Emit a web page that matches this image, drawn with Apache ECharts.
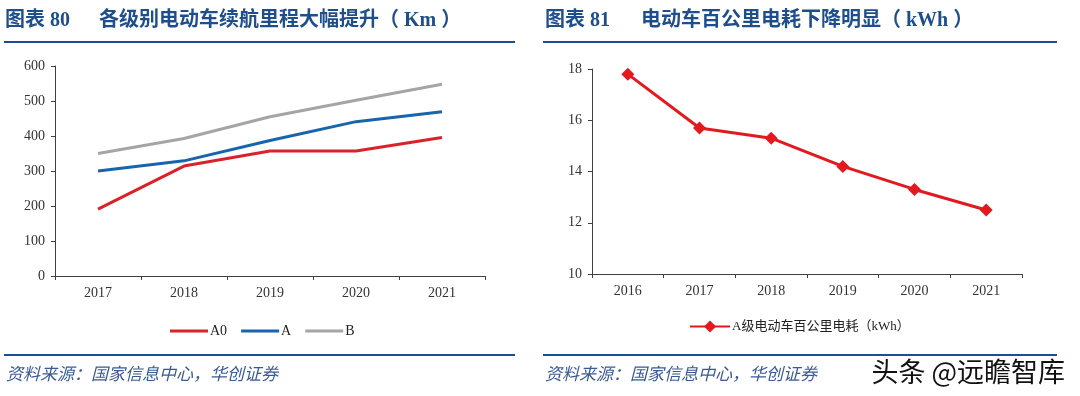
<!DOCTYPE html>
<html>
<head>
<meta charset="utf-8">
<script src="https://cdn.jsdelivr.net/npm/echarts@6/dist/echarts.min.js"></script>
<style>
  html, body { margin: 0; padding: 0; background: #fff; }
  #chart { width: 1080px; height: 396px; }
</style>
</head>
<body>
<div id="chart"></div>
<script>
// left panel: driving range by class (Km)
const rangeYears = ['2017', '2018', '2019', '2020', '2021']
const rangeA0 = [191, 314, 357, 357, 396]
const rangeA = [300, 329, 387, 441, 469]
const rangeB = [350, 393, 455, 502, 548]

// right panel: consumption per 100 km (kWh)
const consYears = ['2016', '2017', '2018', '2019', '2020', '2021']
const consA = [17.8, 15.7, 15.3, 14.2, 13.3, 12.5]

const serif = '"Liberation Serif", "Noto Sans CJK SC", serif'
const navy = '#1f4e8c'
const axisColor = '#404040'

const axisCommon = {
  axisLine: {show: true, lineStyle: {color: axisColor, width: 1}},
  axisTick: {show: true, lineStyle: {color: axisColor}, length: 4},
  axisLabel: {color: '#333', fontFamily: serif, fontSize: 14, margin: 10},
  splitLine: {show: false},
}

const chart = echarts.init(document.getElementById('chart'))
chart.setOption({
  animation: false,
  backgroundColor: '#fff',
  grid: [
    {left: 55, width: 430, top: 66, height: 210},
    {left: 592, width: 430, top: 69, height: 205},
  ],
  xAxis: [
    {type: 'category', gridIndex: 0, data: rangeYears, ...axisCommon},
    {type: 'category', gridIndex: 1, data: consYears, ...axisCommon},
  ],
  yAxis: [
    {type: 'value', gridIndex: 0, min: 0, max: 600, interval: 100, ...axisCommon},
    {type: 'value', gridIndex: 1, min: 10, max: 18, interval: 2, ...axisCommon},
  ],
  legend: [
    {
      data: ['A0', 'A', 'B'],
      left: 165, top: 319,
      icon: 'rect',
      itemWidth: 38, itemHeight: 3, itemGap: 14,
      textStyle: {fontFamily: serif, fontSize: 14, color: '#222', padding: [0, 0, 0, -3]},
    },
    {
      data: ['A级电动车百公里电耗（kWh）'],
      left: 684, top: 315,
      itemWidth: 40, itemHeight: 15,
      textStyle: {fontFamily: serif, fontSize: 13, color: '#222', padding: [0, 0, 0, -3]},
    },
  ],
  series: [
    {name: 'A0', type: 'line', xAxisIndex: 0, yAxisIndex: 0, data: rangeA0, symbol: 'none',
      lineStyle: {color: '#d8232a', width: 3}, itemStyle: {color: '#d8232a'}},
    {name: 'A', type: 'line', xAxisIndex: 0, yAxisIndex: 0, data: rangeA, symbol: 'none',
      lineStyle: {color: '#1864ad', width: 3}, itemStyle: {color: '#1864ad'}},
    {name: 'B', type: 'line', xAxisIndex: 0, yAxisIndex: 0, data: rangeB, symbol: 'none',
      lineStyle: {color: '#a5a5a5', width: 3}, itemStyle: {color: '#a5a5a5'}},
    {name: 'A级电动车百公里电耗（kWh）', type: 'line', xAxisIndex: 1, yAxisIndex: 1, data: consA,
      symbol: 'diamond', symbolSize: 13,
      lineStyle: {color: '#e3191f', width: 3}, itemStyle: {color: '#e3191f'}},
  ],
  graphic: [
    // headers
    {type: 'text', left: 5, top: 11, style: {text: '图表 80', font: 'bold 20px ' + serif, fill: navy}},
    {type: 'text', left: 99, top: 11, style: {text: '各级别电动车续航里程大幅提升（ Km ）', font: 'bold 20px ' + serif, fill: navy}},
    {type: 'text', left: 545, top: 11, style: {text: '图表 81', font: 'bold 20px ' + serif, fill: navy}},
    {type: 'text', left: 641, top: 11, style: {text: '电动车百公里电耗下降明显（ kWh ）', font: 'bold 20px ' + serif, fill: navy}},
    {type: 'line', shape: {x1: 4, y1: 42, x2: 515, y2: 42}, style: {stroke: navy, lineWidth: 2}},
    {type: 'line', shape: {x1: 543, y1: 42, x2: 1057, y2: 42}, style: {stroke: navy, lineWidth: 2}},
    // footers
    {type: 'line', shape: {x1: 4, y1: 355, x2: 515, y2: 355}, style: {stroke: navy, lineWidth: 2}},
    {type: 'line', shape: {x1: 543, y1: 355, x2: 1057, y2: 355}, style: {stroke: navy, lineWidth: 2}},
    {type: 'text', left: 6, top: 365, style: {text: '资料来源：国家信息中心，华创证券', font: 'italic 17px "Noto Sans CJK SC"', fill: '#3a5a94'}},
    {type: 'text', left: 545, top: 365, style: {text: '资料来源：国家信息中心，华创证券', font: 'italic 17px "Noto Sans CJK SC"', fill: '#3a5a94'}},
    {type: 'text', left: 870, top: 357, style: {text: '头条 @远瞻智库', font: '27px "Noto Sans CJK SC"', fill: '#111', stroke: '#fff', lineWidth: 3}},
  ],
})
</script>
</body>
</html>
